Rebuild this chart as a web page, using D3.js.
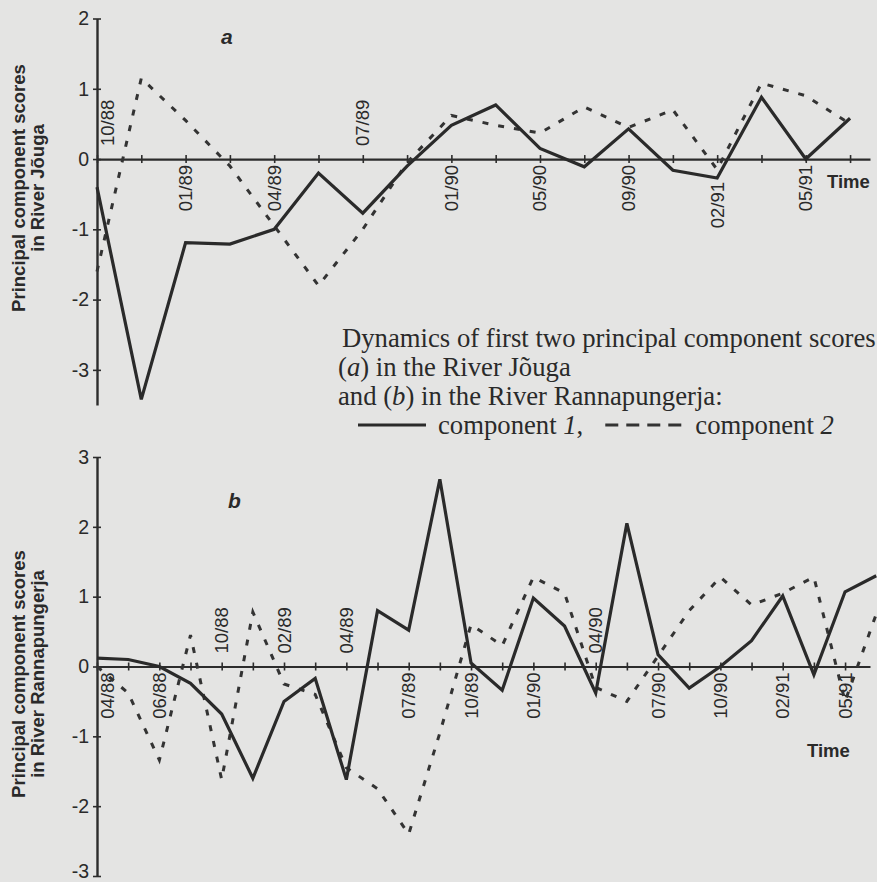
<!DOCTYPE html>
<html>
<head>
<meta charset="utf-8">
<script src="https://cdn.jsdelivr.net/npm/d3@7"></script>
<style>
  body { margin: 0; background: #e4e4e3; }
  svg { display: block; }
  .axis path, .axis line { stroke: #2c2c2c; }
  .sans { font-family: "Liberation Sans", Arial, sans-serif; fill: #2a2a2a; }
  .serif { font-family: "Liberation Serif", "Times New Roman", serif; fill: #2a2a2a; }
</style>
</head>
<body>
<div id="chart"></div>
<script>
// panel a: River Jõuga
var datesA = ["10/88", "", "01/89", "", "04/89", "", "07/89", "", "01/90", "", "05/90", "", "09/90", "", "02/91", "", "05/91", ""];
var compA1 = [-0.40, -3.42, -1.19, -1.21, -1.00, -0.20, -0.77, -0.10, 0.48, 0.77, 0.15, -0.11, 0.43, -0.16, -0.27, 0.88, 0.00, 0.58];
var compA2 = [-1.60, 1.15, 0.55, -0.10, -0.95, -1.80, -1.00, -0.05, 0.62, 0.48, 0.37, 0.74, 0.45, 0.70, -0.15, 1.08, 0.90, 0.50];
var ticksA = [-3, -2, -1, 0, 1, 2];

// panel b: River Rannapungerja
var datesB = ["04/88", "", "06/88", "", "10/88", "", "02/89", "", "04/89", "", "07/89", "", "10/89", "", "01/90", "", "04/90", "", "07/90", "", "10/90", "", "02/91", "", "05/91", ""];
var compB1 = [0.12, 0.10, 0.00, -0.24, -0.68, -1.60, -0.50, -0.17, -1.62, 0.80, 0.52, 2.68, 0.05, -0.34, 0.98, 0.58, -0.38, 2.05, 0.17, -0.31, 0.00, 0.37, 1.01, -0.12, 1.07, 1.30];
var compB2 = [0.00, -0.38, -1.34, 0.45, -1.62, 0.78, -0.25, -0.40, -1.45, -1.75, -2.40, -0.95, 0.60, 0.30, 1.28, 1.05, -0.30, -0.50, 0.15, 0.80, 1.28, 0.88, 1.05, 1.28, -0.50, 0.75];
var ticksB = [-3, -2, -1, 0, 1, 2, 3];

var svgWidth = 877;
var svgHeight = 882;

var svg = d3.select("#chart")
  .append("svg")
  .attr("width", svgWidth)
  .attr("height", svgHeight);

svg.append("rect")
  .attr("width", svgWidth)
  .attr("height", svgHeight)
  .attr("fill", "#e4e4e3");

function drawPanel(p) {
  var g = svg.append("g");
  var y0 = p.y(0);

  // x axis through zero with crossing ticks
  var xAxis = g.append("g")
    .attr("class", "axis")
    .attr("transform", `translate(0, ${y0})`)
    .call(d3.axisBottom(p.x).tickValues(d3.range(p.nTicks)).tickFormat("").tickSizeOuter(0).tickSizeInner(4));
  xAxis.select(".domain").attr("stroke-width", 2.2);
  xAxis.selectAll(".tick line").attr("y1", -4).attr("y2", 4).attr("stroke-width", 1.6);

  // y axis
  var yAxis = g.append("g")
    .attr("class", "axis")
    .attr("transform", `translate(${p.x.range()[0]}, 0)`)
    .call(d3.axisLeft(p.y).tickValues(p.yTicks).tickFormat(d => String(d)).tickSizeOuter(0).tickSizeInner(4));
  yAxis.select(".domain").attr("stroke-width", 2.4);
  yAxis.selectAll(".tick line").attr("x1", -4).attr("x2", 4).attr("stroke-width", 1.6);
  yAxis.selectAll(".tick text")
    .attr("class", "sans")
    .attr("x", -8)
    .attr("dy", d => d === p.yTicks[0] && p.lowLabelUp ? "0.1em" : "0.32em")
    .attr("font-size", 19.5)
    .attr("fill", "#2a2a2a");

  // date labels, rotated
  p.dates.forEach(function(d, i) {
    if (!d) return;
    var above = p.above.indexOf(d) >= 0;
    var dx = i === 0 ? 17 : 6.5;
    var dy = above ? -13 : 6 + (p.extraDown[d] || 0);
    g.append("text")
      .attr("class", "sans")
      .attr("font-size", 18.5)
      .attr("text-anchor", above ? "start" : "end")
      .attr("transform", `translate(${p.x(i) + dx}, ${y0 + dy}) rotate(-90)`)
      .text(d);
  });

  // series
  var line = d3.line()
    .x((d, i) => p.x(i))
    .y(d => p.y(d));

  g.append("path")
    .datum(p.s2)
    .attr("d", line)
    .attr("fill", "none")
    .attr("stroke", "#333")
    .attr("stroke-width", 3)
    .attr("stroke-dasharray", "6,10");

  g.append("path")
    .datum(p.s1)
    .attr("d", line)
    .attr("fill", "none")
    .attr("stroke", "#2a2a2a")
    .attr("stroke-width", 3.2)
    .attr("stroke-linejoin", "miter");

  // y title
  var title = g.append("text")
    .attr("class", "sans")
    .attr("font-size", 18.5)
    .attr("font-weight", "bold")
    .attr("text-anchor", "middle")
    .attr("transform", `translate(25, ${p.titleY}) rotate(-90)`);
  title.append("tspan").attr("x", 0).attr("y", 0).text("Principal component scores");
  title.append("tspan").attr("x", 0).attr("y", 19).text(p.titleLine2);

  // panel letter
  g.append("text")
    .attr("class", "sans")
    .attr("font-size", 21)
    .attr("font-weight", "bold")
    .attr("font-style", "italic")
    .attr("x", p.letterPos[0])
    .attr("y", p.letterPos[1])
    .text(p.letter);

  // Time
  g.append("text")
    .attr("class", "sans")
    .attr("font-size", 18.5)
    .attr("font-weight", "bold")
    .attr("x", p.timePos[0])
    .attr("y", p.timePos[1])
    .text("Time");
}

// panel a
var xA = d3.scaleLinear().domain([0, 17.45]).range([97, 870]);
var yA = d3.scaleLinear().domain([-3.5, 2]).range([405, 18.5]);
drawPanel({
  x: xA, y: yA, nTicks: 18, yTicks: ticksA,
  dates: datesA, above: ["10/88", "07/89"], extraDown: {"02/91": 17},
  s1: compA1, s2: compA2,
  titleY: 188, titleLine2: "in River Jõuga",
  letter: "a", letterPos: [221, 44], timePos: [827, 188]
});

// panel b
var xB = d3.scaleLinear().domain([0, 24.8]).range([97, 870]);
var yB = d3.scaleLinear().domain([-3, 3]).range([876, 457]);
drawPanel({
  x: xB, y: yB, nTicks: 25, yTicks: ticksB, lowLabelUp: true,
  dates: datesB, above: ["10/88", "02/89", "04/89", "04/90"], extraDown: {},
  s1: compB1, s2: compB2,
  titleY: 674, titleLine2: "in River Rannapungerja",
  letter: "b", letterPos: [228, 508], timePos: [807, 757]
});

// caption / legend
var cap = svg.append("g").attr("class", "serif").attr("font-size", 26.7);
cap.append("text").attr("x", 342).attr("y", 347).text("Dynamics of first two principal component scores");
var l2 = cap.append("text").attr("x", 338).attr("y", 376);
l2.append("tspan").text("(");
l2.append("tspan").attr("font-style", "italic").text("a");
l2.append("tspan").text(") in the River Jõuga");
var l3 = cap.append("text").attr("x", 338).attr("y", 405);
l3.append("tspan").text("and (");
l3.append("tspan").attr("font-style", "italic").text("b");
l3.append("tspan").text(") in the River Rannapungerja:");

// legend row: solid sample, label, dashed sample, label
var legX = 358;
cap.append("line")
  .attr("x1", legX).attr("x2", legX + 68).attr("y1", 425).attr("y2", 425)
  .attr("stroke", "#2a2a2a").attr("stroke-width", 3.2);
var l4a = cap.append("text").attr("x", legX + 80).attr("y", 434);
l4a.append("tspan").text("component ");
l4a.append("tspan").attr("font-style", "italic").text("1");
l4a.append("tspan").text(",");
var endA = legX + 80 + l4a.node().getComputedTextLength();
cap.append("line")
  .attr("x1", endA + 22).attr("x2", endA + 98).attr("y1", 425).attr("y2", 425)
  .attr("stroke", "#333").attr("stroke-width", 3).attr("stroke-dasharray", "13,8");
var l4b = cap.append("text").attr("x", endA + 112).attr("y", 434);
l4b.append("tspan").text("component ");
l4b.append("tspan").attr("font-style", "italic").text("2");
</script>
</body>
</html>
